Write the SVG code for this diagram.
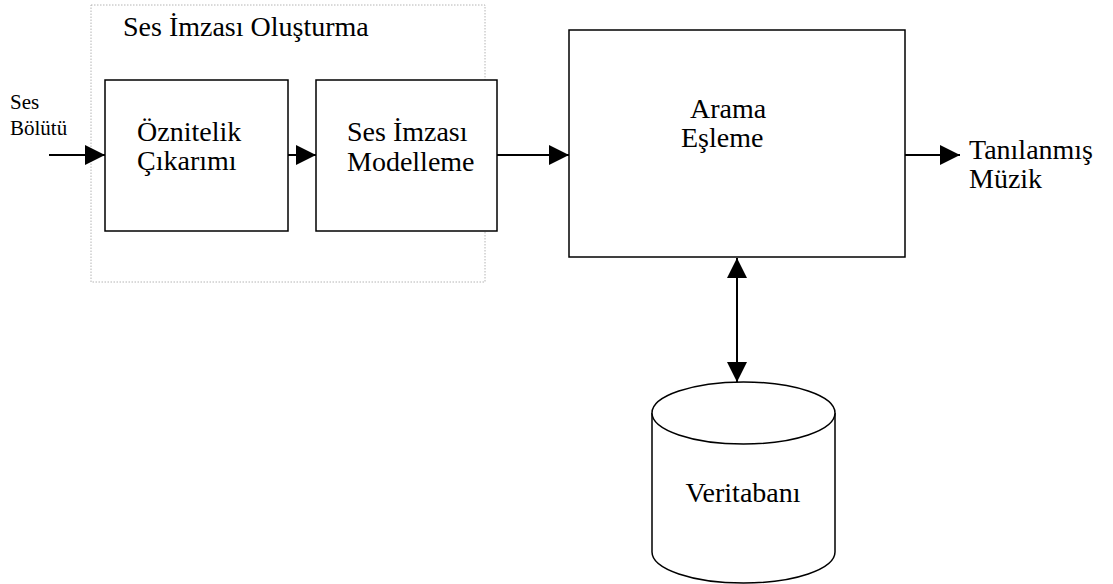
<svg xmlns="http://www.w3.org/2000/svg" width="1113" height="584" viewBox="0 0 1113 584" font-family="'Liberation Serif', 'Times New Roman', serif">
<style>
text{font-family:'Liberation Serif','Times New Roman',serif;fill:#000}
.t{font-size:28px}
.s{font-size:21px}
.box{fill:#fff;stroke:#000;stroke-width:1.5}
.con{stroke:#000;stroke-width:2;fill:none}
</style>
<defs>
<marker id="ah" markerUnits="userSpaceOnUse" markerWidth="20" markerHeight="20" refX="20" refY="10" orient="auto-start-reverse" viewBox="0 0 20 20">
<path d="M0,0 L20,10 L0,20 Z" fill="#000"/>
</marker>
</defs>
<rect width="1113" height="584" fill="#fff"/>
<g id="group-ses-imzasi">
<rect x="91" y="5" width="394" height="277" fill="none" stroke="#b4b4b4" stroke-width="1" stroke-dasharray="1.5 1.5"/>
<text class="t" x="123" y="36">Ses İmzası Oluşturma</text>
</g>
<g id="label-ses-bolutu">
<text class="s" x="10" y="109">Ses</text>
<text class="s" x="10" y="135">Bölütü</text>
</g>
<g id="node-oznitelik">
<rect class="box" x="105" y="80" width="183" height="151"/>
<text class="t" x="137" y="141">Öznitelik</text>
<text class="t" x="137" y="170">Çıkarımı</text>
</g>
<g id="node-modelleme">
<rect class="box" x="316" y="80" width="181" height="151"/>
<text class="t" x="347" y="141">Ses İmzası</text>
<text class="t" x="347" y="171">Modelleme</text>
</g>
<g id="node-arama">
<rect class="box" x="569" y="30" width="336" height="227"/>
<text class="t" x="690" y="118">Arama</text>
<text class="t" x="681" y="147">Eşleme</text>
</g>
<g id="node-veritabani">
<path class="box" d="M652,413 L652,552 A91.5,31 0 0 0 835,552 L835,413"/>
<ellipse class="box" cx="743.5" cy="413" rx="91.5" ry="31"/>
<text class="t" x="743" y="502" text-anchor="middle">Veritabanı</text>
</g>
<g id="label-tanilanmis">
<text class="t" x="969" y="159">Tanılanmış</text>
<text class="t" x="969" y="188">Müzik</text>
</g>
<g id="connectors">
<line class="con" x1="49" y1="155" x2="105" y2="155" marker-end="url(#ah)"/>
<line class="con" x1="288" y1="155" x2="316" y2="155" marker-end="url(#ah)"/>
<line class="con" x1="497" y1="155" x2="569" y2="155" marker-end="url(#ah)"/>
<line class="con" x1="905" y1="155" x2="960" y2="155" marker-end="url(#ah)"/>
<line class="con" x1="737" y1="258" x2="737" y2="382" marker-start="url(#ah)" marker-end="url(#ah)"/>
</g>
</svg>
